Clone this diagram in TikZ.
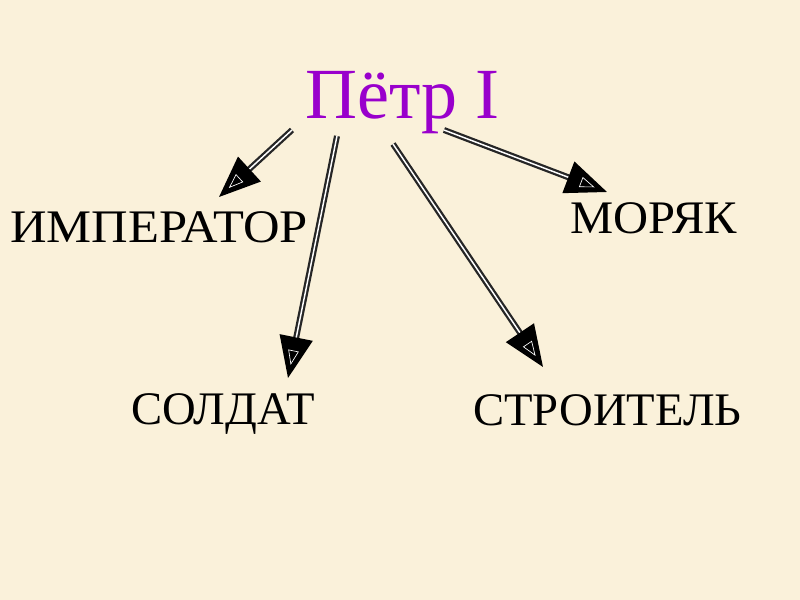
\documentclass[tikz,border=0pt]{standalone}
\usepackage{fontspec}
\setmainfont{Liberation Serif}
\usetikzlibrary{arrows.meta}
\definecolor{paper}{RGB}{250,241,218}
\definecolor{tsar}{RGB}{153,0,204}
\begin{document}
\begin{tikzpicture}
        [
          x=0.75pt, y=-0.75pt,
          label/.style={anchor=base west, inner sep=0pt, font=\fontsize{35}{40}\selectfont},
          arr/.style={draw=black!85, line width=1.7pt, double=white, double distance=1.1pt,
            shorten >=10pt,
            -{Triangle[length=31pt, width=25pt, black, sep=-21pt]
              Triangle[open, length=11pt, width=8pt, white, line width=0.5pt]}}
        ]
        % page
        \fill [paper] (0,0) rectangle (800,600);
        \useasboundingbox (0,0) rectangle (800,600);
        % labels
        \node [label, text=tsar, font=\fontsize{54}{60}\selectfont] (petr) at (305,118) {Пётр I};
        \node [label, xscale=1.085, transform shape] (imp) at (10,242) {ИМПЕРАТОР};
        \node [label, xscale=1.04, transform shape] (moryak) at (570,233) {МОРЯК};
        \node [label] (soldat) at (131,424) {СОЛДАТ};
        \node [label] (stroit) at (473,425) {СТРОИТЕЛЬ};
        % arrow ends
        \coordinate (s1) at (292,130);
        \coordinate (s2) at (337,136);
        \coordinate (s3) at (393,144);
        \coordinate (s4) at (444,130);
        \coordinate (e1) at (219,197);
        \coordinate (e2) at (288,378);
        \coordinate (e3) at (543,367);
        \coordinate (e4) at (607,192);
        % arrows
        \draw [arr] (s1) -- (e1);
        \draw [arr] (s2) -- (e2);
        \draw [arr] (s3) -- (e3);
        \draw [arr] (s4) -- (e4);
\end{tikzpicture}
\end{document}
